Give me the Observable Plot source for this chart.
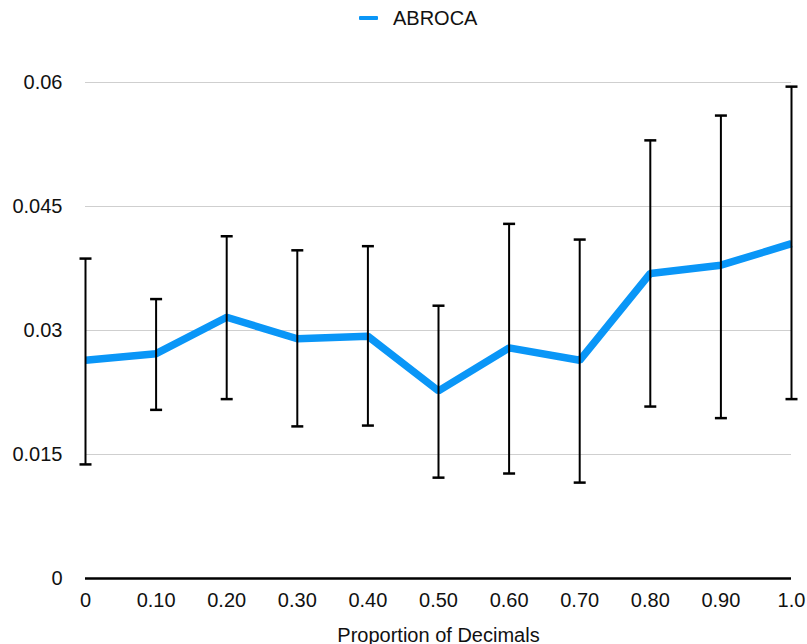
<!DOCTYPE html>
<html>
<head>
<meta charset="utf-8">
<script src="https://cdn.jsdelivr.net/npm/d3@7"></script>
<script src="https://cdn.jsdelivr.net/npm/@observablehq/plot@0.6"></script>
<style>
  html, body { margin: 0; padding: 0; background: #fff; }
  body { font-family: "Liberation Sans", Arial, Helvetica, sans-serif; width: 807px; height: 644px; overflow: hidden; }
  #legend { position: relative; height: 36px; }
  #legend .sw { position: absolute; left: 359px; top: 16px; width: 19px; height: 4px; background: #0a96f7; border-radius: 1px; }
  #legend .lb { position: absolute; left: 393px; top: 8px; font-size: 20px; line-height: 20px; color: #111; }
</style>
</head>
<body>
<div id="legend"><span class="sw"></span><span class="lb">ABROCA</span></div>
<div id="chart"></div>
<script>
// Data
const proportions = [0, 0.1, 0.2, 0.3, 0.4, 0.5, 0.6, 0.7, 0.8, 0.9, 1.0];
const xTickLabels = ["0", "0.10", "0.20", "0.30", "0.40", "0.50", "0.60", "0.70", "0.80", "0.90", "1.0"];
const abroca = [0.0264, 0.0272, 0.0316, 0.0290, 0.0293, 0.0227, 0.0279, 0.0264, 0.0369, 0.0379, 0.0405];
const upper  = [0.0387, 0.0338, 0.0414, 0.0397, 0.0402, 0.0330, 0.0429, 0.0410, 0.0530, 0.0560, 0.0595];
const lower  = [0.0138, 0.0204, 0.0217, 0.0184, 0.0185, 0.0122, 0.0127, 0.0116, 0.0208, 0.0194, 0.0217];
const yTicks = [0, 0.015, 0.03, 0.045, 0.06];
const yTickLabels = ["0", "0.015", "0.03", "0.045", "0.06"];

const data = proportions.map((p, i) => ({x: p, v: abroca[i], lo: lower[i], hi: upper[i]}));

const capSymbol = {
  draw(context, size) {
    const r = Math.sqrt(size / Math.PI);
    context.moveTo(-r, 0);
    context.lineTo(r, 0);
  }
};

const chart = Plot.plot({
  width: 807,
  height: 608,
  marginTop: 46,
  marginBottom: 66,
  marginLeft: 85,
  marginRight: 16,
  style: {fontFamily: "Liberation Sans, Arial, sans-serif", fontSize: "20px", color: "#111", background: "white"},
  x: {domain: [0, 1]},
  y: {domain: [0, 0.06]},
  marks: [
    Plot.gridY(yTicks.filter(d => d > 0), {stroke: "#cfcfcf", strokeOpacity: 1, strokeWidth: 1}),
    Plot.axisY({ticks: yTicks, tickFormat: (d) => yTickLabels[yTicks.indexOf(d)], tickSize: 0, tickPadding: 23, label: null, fontSize: 20}),
    Plot.axisX({ticks: proportions, tickFormat: (d) => xTickLabels[proportions.findIndex(p => Math.abs(p - d) < 1e-9)], tickSize: 0, tickPadding: 14, label: "Proportion of Decimals", labelAnchor: "center", labelArrow: "none", fontSize: 20}),
    Plot.ruleY([0], {stroke: "#000", strokeWidth: 2.5}),
    Plot.line(data, {x: "x", y: "v", stroke: "#0a96f7", strokeWidth: 7.5, strokeLinejoin: "miter", strokeLinecap: "butt"}),
    Plot.ruleX(data, {x: "x", y1: "lo", y2: "hi", stroke: "#000", strokeWidth: 2}),
    Plot.dot(data, {x: "x", y: "lo", symbol: capSymbol, r: 6, stroke: "#000", strokeWidth: 2.5, fill: "none"}),
    Plot.dot(data, {x: "x", y: "hi", symbol: capSymbol, r: 6, stroke: "#000", strokeWidth: 2.5, fill: "none"})
  ]
});
document.getElementById("chart").appendChild(chart);
</script>
</body>
</html>
